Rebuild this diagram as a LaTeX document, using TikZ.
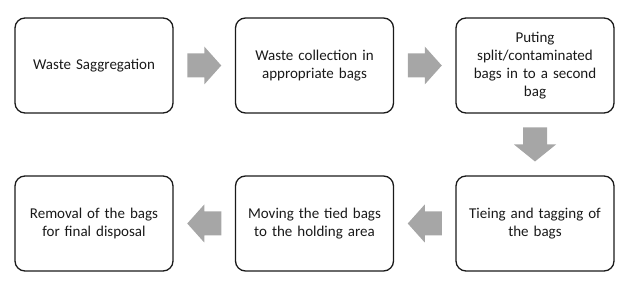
\documentclass[tikz,border=0pt]{standalone}
\usepackage{fontspec}
\setmainfont{Carlito}
\usetikzlibrary{calc}
\definecolor{arrowgray}{HTML}{A6A6A6}
\definecolor{boxline}{HTML}{1A1A1A}
\newcommand\mynohyph{\hyphenpenalty=10000\relax\exhyphenpenalty=10000\relax}
\tikzset{
  stepbox/.style={draw=boxline, line width=1.3pt, rounded corners=10pt,
    minimum width=158pt, minimum height=95pt, text width=150pt, align=center,
    inner sep=0pt, font=\fontsize{15pt}{18pt}\selectfont\mynohyph, text=black!90},
  blockarrow/.style={fill=arrowgray, draw=none}
}
\begin{document}
\begin{tikzpicture}[x=1pt,y=-1pt]
\useasboundingbox (0,0) rectangle (640,296);
\node[stepbox] (a) at (94,65.5) {Waste Saggregation};
\node[stepbox] (b) at (314.5,65.5) {Waste collection in\\appropriate bags};
\node[stepbox] (c) at (535,65.5) {Puting\\split/contaminated\\bags in to a second\\bag};
\node[stepbox] (d) at (535,223.5) {Tieing and tagging of\\the bags};
\node[stepbox] (e) at (314.5,223.5) {Moving the tied bags\\to the holding area};
\node[stepbox] (f) at (94,223.5) {Removal of the bags\\for final disposal};
% right arrows
\fill[blockarrow, shift={($(a.east)!.5!(b.west)$)}] (-17,-12) -- (0,-12) -- (0,-19) -- (17,0) -- (0,19) -- (0,12) -- (-17,12) -- cycle;
\fill[blockarrow, shift={($(b.east)!.5!(c.west)$)}] (-17,-12) -- (0,-12) -- (0,-19) -- (17,0) -- (0,19) -- (0,12) -- (-17,12) -- cycle;
% down arrow
\fill[blockarrow, shift={($(c.south)!.5!(d.north)$)}] (-12,-17) -- (-12,0) -- (-21,0) -- (0,17) -- (21,0) -- (12,0) -- (12,-17) -- cycle;
% left arrows
\fill[blockarrow, shift={($(d.west)!.5!(e.east)$)}] (17,-12) -- (0,-12) -- (0,-19) -- (-17,0) -- (0,19) -- (0,12) -- (17,12) -- cycle;
\fill[blockarrow, shift={($(e.west)!.5!(f.east)$)}] (17,-12) -- (0,-12) -- (0,-19) -- (-17,0) -- (0,19) -- (0,12) -- (17,12) -- cycle;
\end{tikzpicture}
\end{document}
